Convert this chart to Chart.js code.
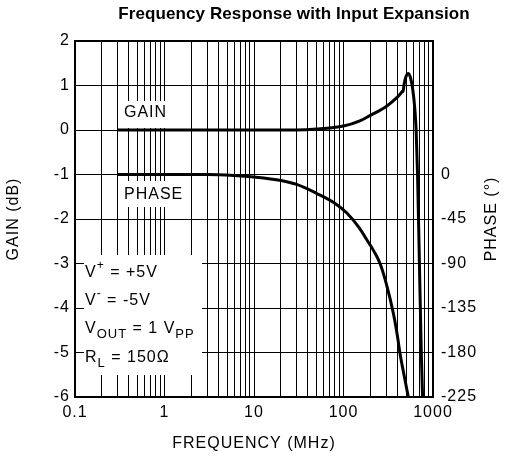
<!DOCTYPE html>
<html>
<head>
<meta charset="utf-8">
<script src="https://cdn.jsdelivr.net/npm/chart.js@4/dist/chart.umd.min.js"></script>
<style>
  html, body { margin: 0; padding: 0; background: #fff; }
  #wrap { width: 510px; height: 457px; }
</style>
</head>
<body>
<div id="wrap"><canvas id="c" width="510" height="457"></canvas></div>
<script>
// ---- data ----
const chartTitle = 'Frequency Response with Input Expansion';
const xTitle = 'FREQUENCY (MHz)';
const yTitle = 'GAIN (dB)';
const y2Title = 'PHASE (°)';
const xTickLabels = ['0.1', '1', '10', '100', '1000'];
const gainTicks = [2, 1, 0, -1, -2, -3, -4, -5, -6];
const phaseTicks = [0, -45, -90, -135, -180, -225];

const gainFreq = [0.3, 1, 3, 10, 30, 50, 100, 150, 200, 300, 400, 440, 455, 462, 475, 495, 530, 565, 595, 625, 648, 672, 705, 740, 765];
const gainDb   = [0, 0, 0, 0, 0, 0.02, 0.09, 0.2, 0.33, 0.53, 0.74, 0.83, 0.87, 0.86, 1.02, 1.18, 1.27, 1.15, 0.9, 0.5, 0, -1, -3, -5, -6];

const phaseFreq = [0.3, 1, 3, 6, 10, 20, 30, 50, 80, 109, 150, 182, 220, 256, 300, 360, 400, 428, 480, 530];
const phaseDeg  = [0, 0, 0, -1, -2.5, -6, -10, -19, -29, -39, -54, -66, -78, -90, -110, -140, -163, -181, -205, -225];

const annotationLines = [
  [{t: 'V'}, {t: '+', sup: true}, {t: ' = +5V'}],
  [{t: 'V'}, {t: '-', sup: true}, {t: ' = -5V'}],
  [{t: 'V'}, {t: 'OUT', sub: true}, {t: ' = 1 V'}, {t: 'PP', sub: true}],
  [{t: 'R'}, {t: 'L', sub: true}, {t: ' = 150Ω'}]
];

// ---- chart ----
const FONT = '"Liberation Sans", Arial, Helvetica, sans-serif';
const INK = '#000';

const xGridValues = [];
for (let e = -1; e < 3; e++) {
  for (let m = 1; m <= 9; m++) xGridValues.push(+(m * Math.pow(10, e)).toPrecision(3));
}
xGridValues.push(1000);

function toXY(xs, ys) { return xs.map((x, i) => ({x: x, y: ys[i]})); }

const overlayPlugin = {
  id: 'overlay',
  beforeDraw(chart) {
    chart.ctx.letterSpacing = '1px';
  },
  beforeDatasetsDraw(chart) {
    const ctx = chart.ctx;
    ctx.save();
    ctx.fillStyle = '#fff';
    // white label boxes
    ctx.fillRect(119, 101, 54, 27);
    ctx.fillRect(119, 181, 72, 26);
    ctx.fillRect(84, 255, 118, 120);
    ctx.fillStyle = INK;
    ctx.font = '16px ' + FONT;
    ctx.textBaseline = 'alphabetic';
    ctx.textAlign = 'left';
    ctx.letterSpacing = '1px';
    ctx.fillText('GAIN', 124, 117);
    ctx.fillText('PHASE', 124, 199);
    // annotation
    const baselines = [277, 305, 333, 362];
    annotationLines.forEach((parts, i) => {
      let x = 85;
      const by = baselines[i];
      parts.forEach(p => {
        let y = by;
        if (p.sup) { ctx.font = '12px ' + FONT; y = by - 8; }
        else if (p.sub) { ctx.font = '13px ' + FONT; y = by + 5; }
        else { ctx.font = '16px ' + FONT; }
        ctx.fillText(p.t, x, y);
        x += ctx.measureText(p.t).width;
      });
    });
    ctx.restore();
  },
  afterDraw(chart) {
    const ctx = chart.ctx;
    const a = chart.chartArea;
    ctx.save();
    ctx.strokeStyle = INK;
    ctx.lineWidth = 2;
    ctx.strokeRect(a.left, a.top, a.right - a.left, a.bottom - a.top);
    ctx.fillStyle = INK;
    ctx.font = 'bold 17px ' + FONT;
    ctx.letterSpacing = '0.1px';
    ctx.textAlign = 'center';
    ctx.textBaseline = 'middle';
    ctx.fillText(chartTitle, 294, 14);
    // right axis title, reading bottom-to-top
    ctx.font = '16px ' + FONT;
    ctx.letterSpacing = '1px';
    ctx.translate(492, (a.top + a.bottom) / 2);
    ctx.rotate(-Math.PI / 2);
    ctx.fillText(y2Title, 0, 0);
    ctx.restore();
  }
};

new Chart(document.getElementById('c'), {
  type: 'line',
  data: {
    datasets: [
      {
        label: 'GAIN',
        data: toXY(gainFreq, gainDb),
        yAxisID: 'y',
        borderColor: INK,
        borderWidth: 3,
        pointRadius: 0,
        cubicInterpolationMode: 'monotone',
        fill: false
      },
      {
        label: 'PHASE',
        data: toXY(phaseFreq, phaseDeg),
        yAxisID: 'y2',
        borderColor: INK,
        borderWidth: 3,
        pointRadius: 0,
        cubicInterpolationMode: 'monotone',
        fill: false
      }
    ]
  },
  options: {
    responsive: false,
    animation: false,
    devicePixelRatio: 1,
    layout: { padding: { top: 41, left: 0, right: 0, bottom: 0 } },
    plugins: {
      legend: { display: false },
      title: { display: false },
      tooltip: { enabled: false }
    },
    scales: {
      x: {
        type: 'logarithmic',
        min: 0.1,
        max: 1000,
        afterBuildTicks(scale) { scale.ticks = xGridValues.map(v => ({value: v})); },
        afterFit(scale) { scale.height = 60; },
        ticks: {
          autoSkip: false,
          maxRotation: 0,
          minRotation: 0,
          padding: 6,
          color: INK,
          font: { family: FONT, size: 16 },
          callback(v) {
            const lbl = xTickLabels.find(l => Math.abs(parseFloat(l) - v) < 1e-9);
            return lbl || '';
          }
        },
        grid: { color: '#000', lineWidth: 1, drawTicks: false },
        border: { color: INK, width: 2 },
        title: {
          display: true,
          text: xTitle,
          color: INK,
          font: { family: FONT, size: 16 },
          padding: { top: 0, bottom: 4 }
        }
      },
      y: {
        type: 'linear',
        position: 'left',
        min: -6,
        max: 2,
        afterBuildTicks(scale) { scale.ticks = gainTicks.map(v => ({value: v})); },
        afterFit(scale) { scale.width = 75; },
        ticks: {
          padding: 5,
          color: INK,
          font: { family: FONT, size: 16 },
          callback(v) { return String(v); }
        },
        grid: { color: '#000', lineWidth: 1, drawTicks: false },
        border: { color: INK, width: 2 },
        title: {
          display: true,
          text: yTitle,
          color: INK,
          font: { family: FONT, size: 16 },
          padding: { top: 4, bottom: 0 }
        }
      },
      y2: {
        type: 'linear',
        position: 'right',
        min: -225,
        max: 135,
        afterBuildTicks(scale) { scale.ticks = [135, 90, 45].concat(phaseTicks).map(v => ({value: v})); },
        afterFit(scale) { scale.width = 77; },
        ticks: {
          padding: 8,
          color: INK,
          font: { family: FONT, size: 16 },
          callback(v) { return phaseTicks.includes(v) ? String(v) : ''; }
        },
        grid: { display: false, drawTicks: false },
        border: { color: INK, width: 2 },
        title: { display: false }
      }
    }
  },
  plugins: [overlayPlugin]
});
</script>
</body>
</html>
